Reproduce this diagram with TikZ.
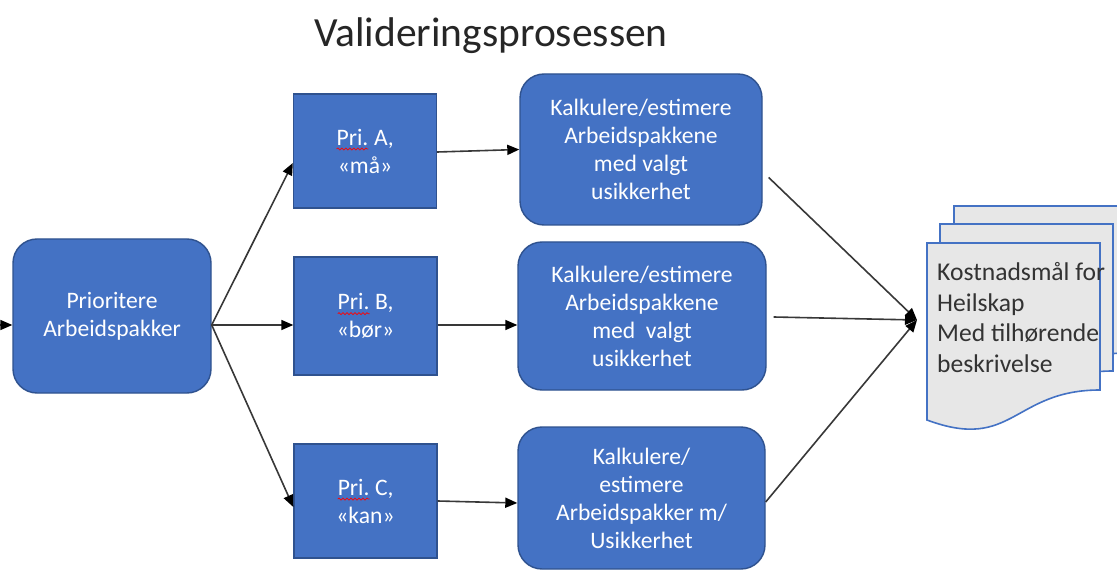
\documentclass[tikz,border=0pt]{standalone}
\usepackage{fontspec}
\setmainfont{Carlito}
\usetikzlibrary{arrows.meta,calc,decorations.pathmorphing}
\definecolor{boxfill}{HTML}{4472C4}
\definecolor{boxdraw}{HTML}{2F528F}
\definecolor{docfill}{HTML}{E7E7E7}
\definecolor{docdraw}{HTML}{4472C4}
\definecolor{linegray}{HTML}{383838}
\newcommand\prilabel{\tikz[baseline=(p.base),x=1pt,y=1pt]{\node[draw=none,fill=none,text=white,anchor=base,inner sep=0pt,outer sep=0pt,minimum width=0pt,minimum height=0pt,rounded corners=0pt] (p) at (0,0) {Pri.};
  \draw[draw=red,fill=none,line width=0.7pt,rounded corners=0pt,decorate,decoration={snake,amplitude=1pt,segment length=4pt}] ([yshift=-4pt]p.base west) -- ([yshift=-4pt]p.base east);}}
\begin{document}
\begin{tikzpicture}[x=1pt,y=-1pt,
  blk/.style={draw=boxdraw, fill=boxfill, line width=1.4pt, text=white, align=center,
    inner sep=0pt, font=\fontsize{23.6}{28}\selectfont},
  rbox/.style={blk, rounded corners=24pt},
  con/.style={draw=linegray, line width=1.6pt, -{Triangle[length=12pt,width=10pt,color=black]}},
  doc/.style={draw=docdraw, fill=docfill, line width=1.6pt},
  docpage/.pic={\path[doc] (0,0) -- (173,0) -- (173,147) .. controls (86,147) and (86,209) .. (0,177) -- cycle;}
]
\useasboundingbox (0,0) rectangle (1117,572);
\fill[white] (0,0) rectangle (1117,572);

% title
\node[anchor=base, font=\fontsize{41.5}{50}\selectfont, text=black!85, inner sep=0pt] (T) at (491,47) {Valideringsprosessen};

% left box
\node[rbox, minimum width=198pt, minimum height=154pt] (L) at (112,316) {Prioritere\\Arbeidspakker};

% priority boxes
\node[blk, minimum width=143pt, minimum height=114pt] (A) at (365,151) {\prilabel{} A,\\«må»};
\node[blk, minimum width=143pt, minimum height=118pt] (B) at (365.5,316) {\prilabel{} B,\\«bør»};
\node[blk, minimum width=143pt, minimum height=114pt] (C) at (365.5,501) {\prilabel{} C,\\«kan»};

% calculation boxes
\node[rbox, minimum width=242pt, minimum height=151pt] (K1) at (641,149.5) {Kalkulere/estimere\\Arbeidspakkene\\med valgt\\usikkerhet};
\node[rbox, minimum width=248pt, minimum height=148pt] (K2) at (642,316) {Kalkulere/estimere\\Arbeidspakkene\\med~~valgt\\usikkerhet};
\node[rbox, minimum width=247pt, minimum height=142pt] (K3) at (641.5,498) {Kalkulere/\\estimere\\Arbeidspakker m/\\Usikkerhet};

% document stack
\begin{scope}
\clip (0,0) rectangle (1117,572);
\pic at (954,206) {docpage};
\pic at (940,224) {docpage};
\pic at (927,243) {docpage};
\end{scope}
\node[anchor=north west, align=left, inner sep=0pt, font=\fontsize{25.6}{30.7}\selectfont, text=black!80] (D) at (937,262) {Kostnadsmål for\\Heilskap\\Med tilhørende\\beskrivelse};

% connectors
\coordinate (in0) at (0,325);
\coordinate (dt) at (917,320);
\draw[con] (in0) -- ([yshift=-9pt]L.west);
\draw[con] ([yshift=-9pt]L.east) -- ([yshift=-12pt]A.west);
\draw[con] ([yshift=-9pt]L.east) -- ([yshift=-9pt]B.west);
\draw[con] ([yshift=-9pt]L.east) -- ([yshift=-6pt]C.west);
\draw[con] ([yshift=-1pt]A.east) -- (K1.west);
\draw[con] ([yshift=-9pt]B.east) -- ([yshift=-9pt]K2.west);
\draw[con] (C.east) -- ([yshift=-5pt]K3.west);
\draw[con] ($(K1.east)+(6,28)$) -- (dt);
\draw[con] ($(K2.east)+(7,1)$) -- (dt);
\draw[con] ($(K3.east)+(0,4)$) -- (dt);
\end{tikzpicture}
\end{document}
